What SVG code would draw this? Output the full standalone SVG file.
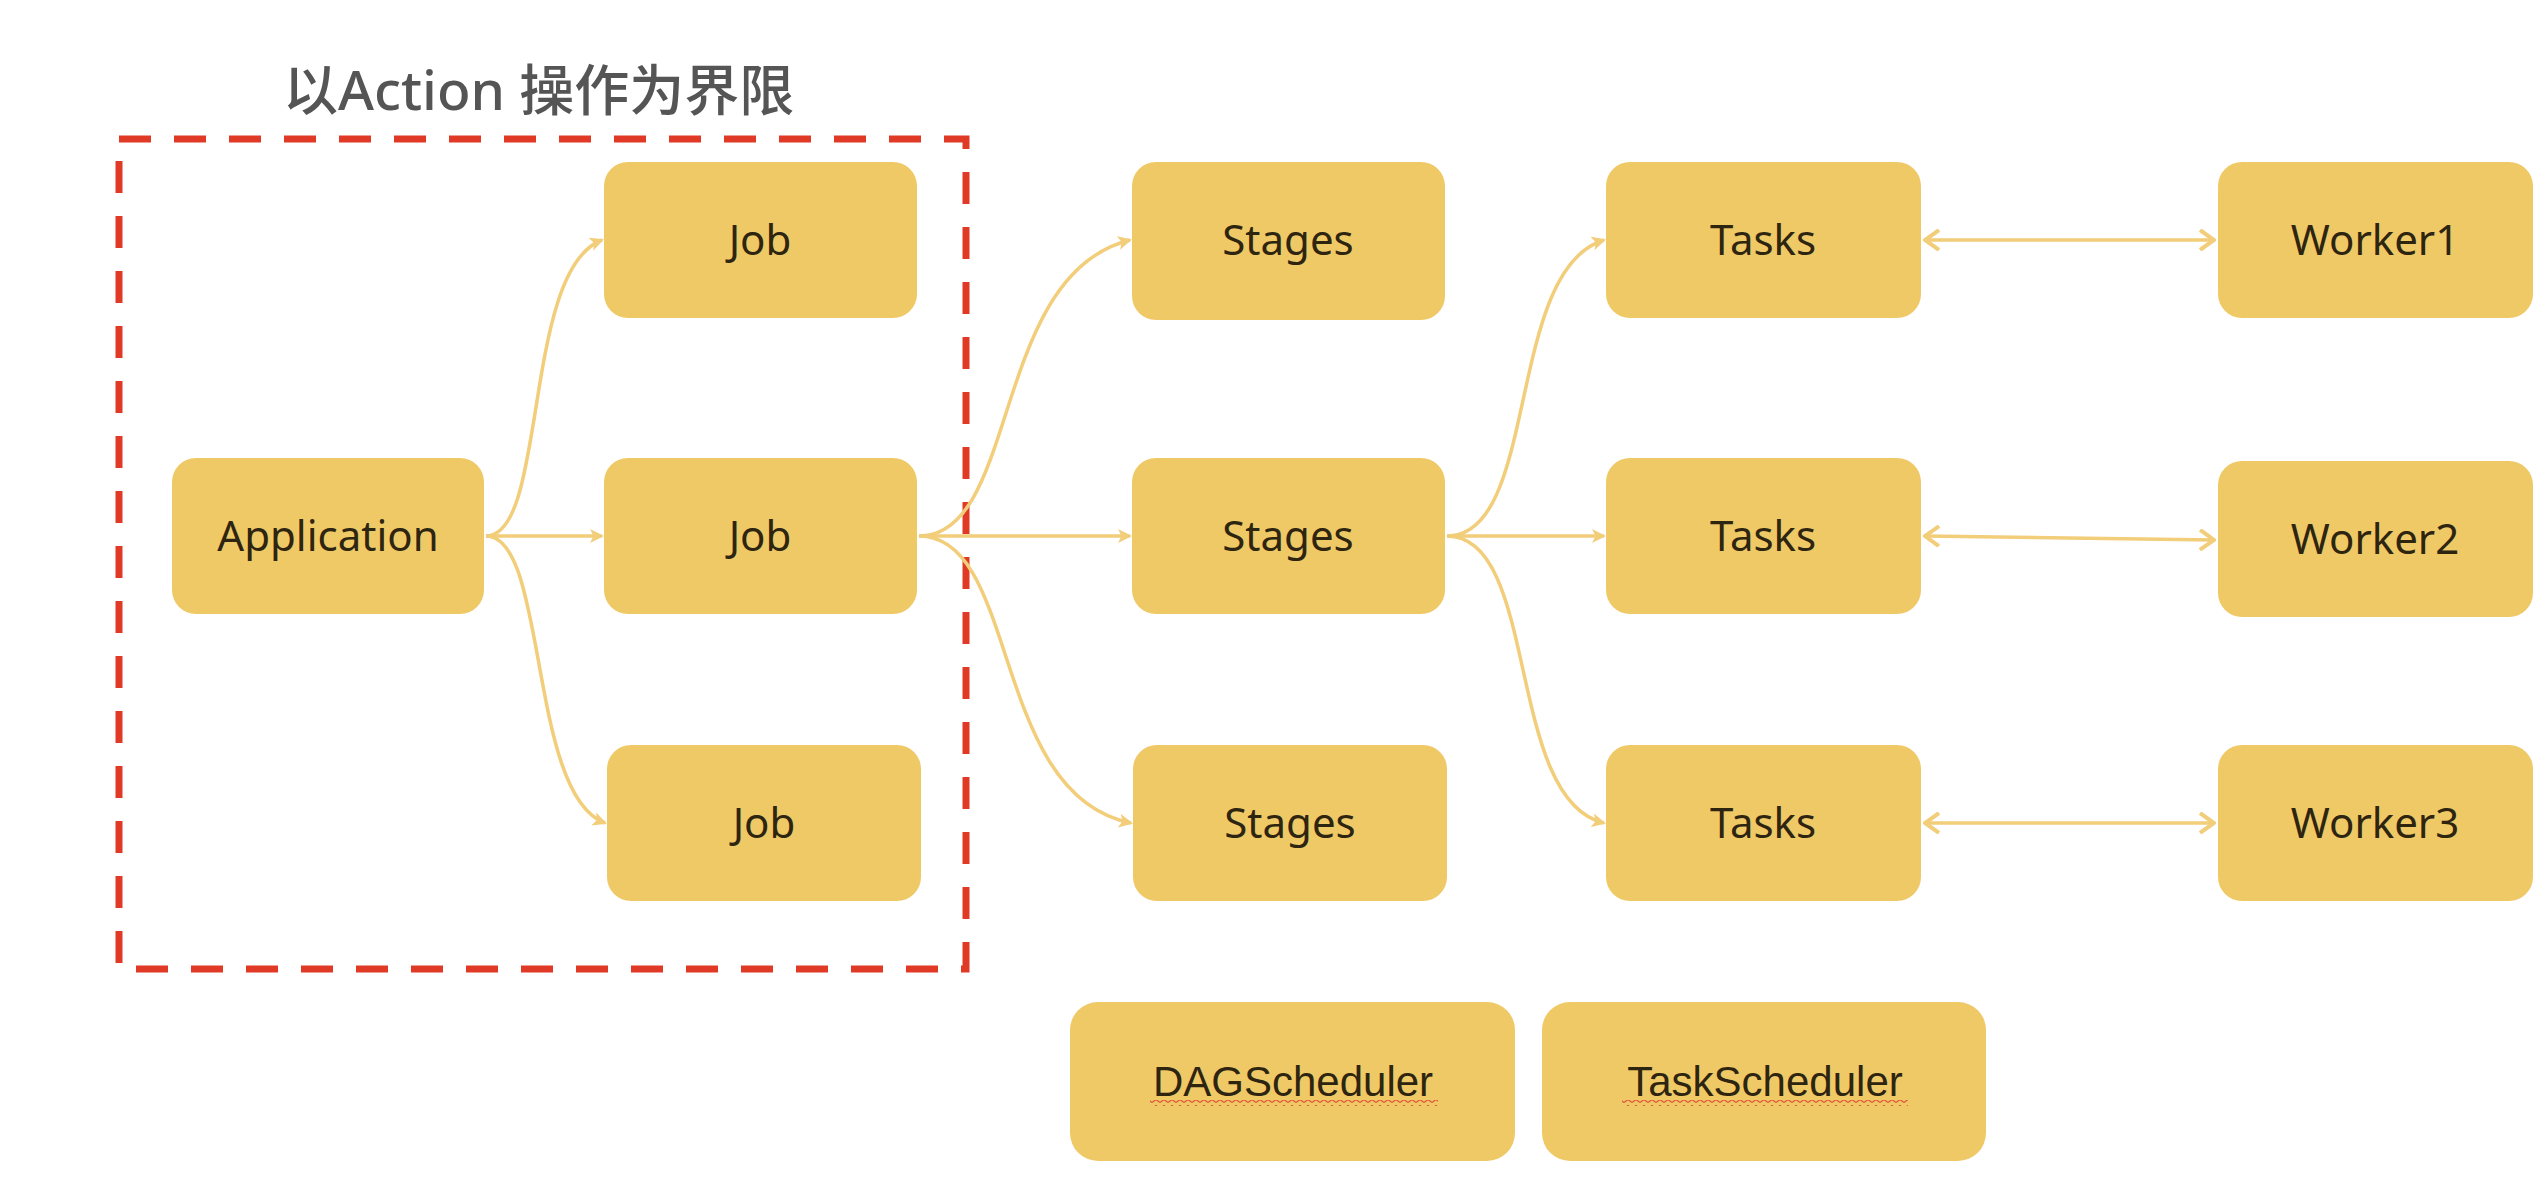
<svg xmlns="http://www.w3.org/2000/svg" width="2546" height="1184" viewBox="0 0 2546 1184">
<style>
.box{fill:#F0C967;}
.lbl{font-family:"Noto Sans","Noto Sans CJK SC",sans-serif;font-size:42px;fill:#2e2510;text-anchor:middle;}
.lbl2{font-family:"Liberation Sans","Noto Sans CJK SC",sans-serif;font-size:42px;fill:#2e2510;text-anchor:middle;}
.con{fill:none;stroke:#F2CD7A;stroke-width:3.5;}
.title{font-family:"Noto Sans","Noto Sans CJK SC",sans-serif;font-size:55px;font-weight:500;fill:#555555;}
</style>
<defs>
<marker id="ah" viewBox="0 0 14 14" refX="12" refY="7" markerWidth="14" markerHeight="14" markerUnits="userSpaceOnUse" orient="auto-start-reverse">
<path d="M0,0 L14,7 L0,14 L3.5,7 Z" fill="#F2CD7A"/>
</marker>
<marker id="av" viewBox="0 0 18 22" refX="16" refY="11" markerWidth="18" markerHeight="22" markerUnits="userSpaceOnUse" orient="auto-start-reverse">
<path d="M2,1 L16,11 L2,21" fill="none" stroke="#F2CD7A" stroke-width="4"/>
</marker>
<pattern id="wave" x="0" y="0" width="8" height="6" patternUnits="userSpaceOnUse">
<path d="M0,4.5 L4,1.5 L8,4.5" fill="none" stroke="#E0533A" stroke-width="1.3"/>
</pattern>
</defs>
<rect width="2546" height="1184" fill="#ffffff"/>
<text class="title" x="283" y="110">以Action 操作为界限</text>
<rect id="boundary" x="119" y="139" width="847" height="830" fill="none" stroke="#E03A26" stroke-width="7" stroke-dasharray="32,23"/>
<g id="connectors">
<path class="con" marker-end="url(#ah)" d="M486,536 C548,536 522,270 602,240"/>
<path class="con" marker-end="url(#ah)" d="M486,536 L602,536"/>
<path class="con" marker-end="url(#ah)" d="M486,536 C548,536 528,795 605,823"/>
<path class="con" marker-end="url(#ah)" d="M919,536 C1020,536 990,275 1130,240"/>
<path class="con" marker-end="url(#ah)" d="M919,536 L1130,536"/>
<path class="con" marker-end="url(#ah)" d="M919,536 C1020,536 990,795 1131,823"/>
<path class="con" marker-end="url(#ah)" d="M1447,536 C1540,536 1505,270 1604,240"/>
<path class="con" marker-end="url(#ah)" d="M1447,536 L1604,536"/>
<path class="con" marker-end="url(#ah)" d="M1447,536 C1540,536 1505,800 1604,823"/>
<path class="con" marker-start="url(#av)" marker-end="url(#av)" d="M1925,240 L2214,240"/>
<path class="con" marker-start="url(#av)" marker-end="url(#av)" d="M1925,536 L2214,540"/>
<path class="con" marker-start="url(#av)" marker-end="url(#av)" d="M1925,823 L2214,823"/>
</g>
<g id="application"><rect class="box" x="172" y="458" width="312" height="156" rx="24"/><text class="lbl" x="328" y="551">Application</text></g>
<g id="job1"><rect class="box" x="604" y="162" width="313" height="156" rx="24"/><text class="lbl" x="760" y="255">Job</text></g>
<g id="job2"><rect class="box" x="604" y="458" width="313" height="156" rx="24"/><text class="lbl" x="760" y="551">Job</text></g>
<g id="job3"><rect class="box" x="607" y="745" width="314" height="156" rx="24"/><text class="lbl" x="764" y="838">Job</text></g>
<g id="stages1"><rect class="box" x="1132" y="162" width="313" height="158" rx="24"/><text class="lbl" x="1288" y="255">Stages</text></g>
<g id="stages2"><rect class="box" x="1132" y="458" width="313" height="156" rx="24"/><text class="lbl" x="1288" y="551">Stages</text></g>
<g id="stages3"><rect class="box" x="1133" y="745" width="314" height="156" rx="24"/><text class="lbl" x="1290" y="838">Stages</text></g>
<g id="tasks1"><rect class="box" x="1606" y="162" width="315" height="156" rx="24"/><text class="lbl" x="1763" y="255">Tasks</text></g>
<g id="tasks2"><rect class="box" x="1606" y="458" width="315" height="156" rx="24"/><text class="lbl" x="1763" y="551">Tasks</text></g>
<g id="tasks3"><rect class="box" x="1606" y="745" width="315" height="156" rx="24"/><text class="lbl" x="1763" y="838">Tasks</text></g>
<g id="worker1"><rect class="box" x="2218" y="162" width="315" height="156" rx="24"/><text class="lbl" x="2375" y="255">Worker1</text></g>
<g id="worker2"><rect class="box" x="2218" y="461" width="315" height="156" rx="24"/><text class="lbl" x="2375" y="554">Worker2</text></g>
<g id="worker3"><rect class="box" x="2218" y="745" width="315" height="156" rx="24"/><text class="lbl" x="2375" y="838">Worker3</text></g>
<g id="dagscheduler"><rect class="box" x="1070" y="1002" width="445" height="159" rx="28"/><text class="lbl2" x="1293" y="1096">DAGScheduler</text><rect x="1150" y="1100" width="288" height="6" fill="url(#wave)"/></g>
<g id="taskscheduler"><rect class="box" x="1542" y="1002" width="444" height="159" rx="28"/><text class="lbl2" x="1765" y="1096">TaskScheduler</text><rect x="1622" y="1100" width="286" height="6" fill="url(#wave)"/></g>
</svg>
